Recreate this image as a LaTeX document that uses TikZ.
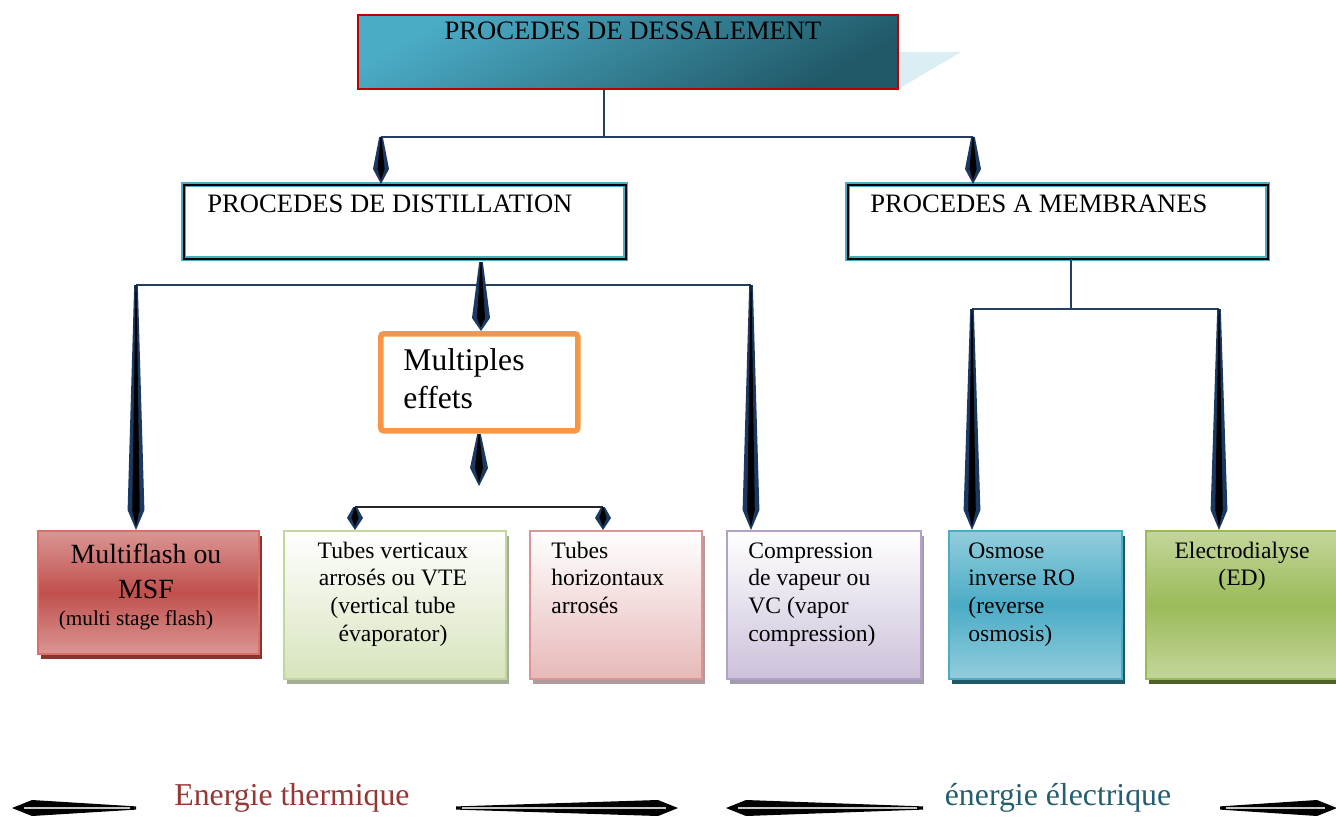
\documentclass[tikz,border=0pt]{standalone}
\usepackage{fontspec}
\setmainfont{Liberation Serif}
\usetikzlibrary{calc,shadows}
\definecolor{navy}{HTML}{1B3A63}
\definecolor{linec}{HTML}{243F60}
\definecolor{topA}{HTML}{4BACC6}
\definecolor{topB}{HTML}{215968}
\definecolor{topBorder}{HTML}{C00000}
\definecolor{ghost}{HTML}{DAEEF3}
\definecolor{cyanB}{HTML}{4BACC6}
\definecolor{orangeB}{HTML}{F79646}
\definecolor{msfA}{HTML}{DA9694}
\definecolor{msfB}{HTML}{C0504D}
\definecolor{msfL}{HTML}{D9706C}
\definecolor{msfS}{HTML}{8C3330}
\definecolor{vteB}{HTML}{D7E4BD}
\definecolor{vteL}{HTML}{C3D69B}
\definecolor{vteS}{HTML}{A6AE98}
\definecolor{thB}{HTML}{E6B9B8}
\definecolor{thL}{HTML}{D99694}
\definecolor{thS}{HTML}{B09A9A}
\definecolor{vcB}{HTML}{CCC1DA}
\definecolor{vcL}{HTML}{B3A2C7}
\definecolor{vcS}{HTML}{A39CAE}
\definecolor{roA}{HTML}{93CDDD}
\definecolor{roB}{HTML}{4BACC6}
\definecolor{roS}{HTML}{215968}
\definecolor{edA}{HTML}{C3D69B}
\definecolor{edB}{HTML}{9BBB59}
\definecolor{edS}{HTML}{4F6228}
\definecolor{thermc}{HTML}{953735}
\definecolor{elecc}{HTML}{245F6E}
\newcommand\linesL[2]{\vtop{\baselineskip=#1\relax\halign{##\hfil\cr#2\crcr}}}
\newcommand\linesC[2]{\vtop{\baselineskip=#1\relax\halign{\hfil##\hfil\cr#2\crcr}}}
% tapered navy arrow: #1 start, #2 tip, #3 head length, #4 half width
\newcommand\arrowV[4]{%
  \path ($(#2)!#3!(#1)$) coordinate (tpH) ($(#2)!1.8pt!(#1)$) coordinate (tpT);
  \fill[navy] ($(#1)!0.9pt!90:(#2)$) -- ($(tpH)!#4!-90:(#1)$) -- (#2) -- ($(tpH)!#4!90:(#1)$) -- ($(#1)!0.9pt!-90:(#2)$) -- cycle;
  \fill[black] ($(#1)!0.2pt!90:(#2)$) -- ($(tpH)!0.45*#4!-90:(#1)$) -- (tpT) -- ($(tpH)!0.45*#4!90:(#1)$) -- ($(#1)!0.2pt!-90:(#2)$) -- cycle;
}
% black tapered arrow with grey core: #1 thin end, #2 tip
\newcommand\arrowE[2]{%
  \path ($(#2)!10pt!(#1)$) coordinate (tpH) ($(#2)!6pt!(#1)$) coordinate (tpG);
  \fill[black] ($(#1)!0.8pt!90:(#2)$) -- ($(tpH)!4pt!-90:(#1)$) -- (#2) -- ($(tpH)!4pt!90:(#1)$) -- ($(#1)!0.8pt!-90:(#2)$) -- cycle;
  \draw[gray!45, line width=0.7pt] ($(#1)!3pt!(#2)$) -- (tpG);
}
\begin{document}
\begin{tikzpicture}[x=0.5pt,y=-0.5pt,
  box/.style={rectangle, inner sep=0pt, anchor=north west},
  txt/.style={inner sep=0pt},
  conn/.style={draw=linec, line width=1pt},
  hdr/.style={font=\fontsize{13.3}{16}\selectfont},
  small/.style={font=\fontsize{11.8}{13.85}\selectfont},
  big/.style={font=\fontsize{13.9}{17.5}\selectfont},
  sh/.style={drop shadow={shadow xshift=1.5pt, shadow yshift=-2.5pt, fill=#1, opacity=1}},
]
\useasboundingbox (0,0) rectangle (1336,818);
\fill[white] (0,0) rectangle (1336,818);

% top box
\fill[ghost] (899,52) -- (961,52) -- (900,88) -- cycle;
\node[box, minimum width=270pt, minimum height=37pt, draw=topBorder, line width=1pt,
      top color=topA, bottom color=topB, shading angle=30] (top) at (357,14) {};
\node[txt, hdr, anchor=base] (ttop) at (633,40) {PROCEDES DE DESSALEMENT};

% level 2
\node[box, minimum width=221pt, minimum height=37pt, draw=cyanB, line width=0.6pt,
      double=black, double distance=1pt, fill=white] (dist) at (183,184) {};
\node[txt, hdr, anchor=base west] (tdist) at (207,213) {PROCEDES DE DISTILLATION};
\node[box, minimum width=210pt, minimum height=37pt, draw=cyanB, line width=0.6pt,
      double=black, double distance=1pt, fill=white] (memb) at (847,184) {};
\node[txt, hdr, anchor=base west] (tmemb) at (870,213) {PROCEDES A MEMBRANES};

% multiples effets
\node[box, minimum width=98.5pt, minimum height=48.5pt, draw=orangeB, line width=2.8pt,
      rounded corners=1.5pt, fill=white] (mult) at (378,331) {};
\node[txt, font=\fontsize{15.8}{19}\selectfont, anchor=base west] (tmult) at (403,370)
      {\linesL{19pt}{Multiples\cr effets}};

% bottom boxes
\node[box, minimum width=110.5pt, minimum height=61.5pt, draw=msfL, line width=1pt,
      top color=msfA, bottom color=msfA, middle color=msfB, sh=msfS] (msf) at (37,530) {};
\node[txt, big, anchor=base] (tmsf) at (146,563) {\linesC{17.5pt}{Multiflash ou\cr MSF}};
\node[txt, font=\fontsize{10.6}{12.5}\selectfont, anchor=base] (tmsf2) at (136,625) {(multi stage flash)};

\node[box, minimum width=111pt, minimum height=74pt, draw=vteL, line width=1pt,
      top color=white, bottom color=vteB, sh=vteS] (vte) at (283,530) {};
\node[txt, small, anchor=base] (tvte) at (393,558)
      {\linesC{13.85pt}{Tubes verticaux\cr arrosés ou VTE\cr (vertical tube\cr évaporator)}};

\node[box, minimum width=86pt, minimum height=74pt, draw=thL, line width=1pt,
      top color=white, bottom color=thB, sh=thS] (th) at (529,530) {};
\node[txt, small, anchor=base west] (tth) at (551,558)
      {\linesL{13.85pt}{Tubes\cr horizontaux\cr arrosés}};

\node[box, minimum width=97pt, minimum height=74pt, draw=vcL, line width=1pt,
      top color=white, bottom color=vcB, sh=vcS] (vc) at (726,530) {};
\node[txt, small, anchor=base west] (tvc) at (748,558)
      {\linesL{13.85pt}{Compression\cr de vapeur ou\cr VC (vapor\cr compression)}};

\node[box, minimum width=86.5pt, minimum height=74pt, draw=roB, line width=1pt,
      top color=roA, bottom color=roA, middle color=roB, sh=roS] (ro) at (948,530) {};
\node[txt, small, anchor=base west] (tro) at (968,558)
      {\linesL{13.85pt}{Osmose\cr inverse RO\cr (reverse\cr osmosis)}};

\node[box, minimum width=100pt, minimum height=74pt, draw=edB, line width=1pt,
      top color=edA, bottom color=edA, middle color=edB, sh=edS] (ed) at (1145,530) {};
\node[txt, small, anchor=base] (ted) at (1242,558)
      {\linesC{13.85pt}{Electrodialyse\cr (ED)}};

% connectors level 1
\coordinate (jT) at (604,137);
\coordinate (jTL) at (381,137);
\coordinate (jTR) at (973,137);
\draw[conn] (jT |- top.south) -- (jT);
\draw[conn] (jTL) -- (jTR);
\coordinate (tDist) at (jTL |- dist.north);
\coordinate (tMemb) at (jTR |- memb.north);
\arrowV{jTL}{tDist}{7.5pt}{4pt}
\arrowV{jTR}{tMemb}{7.5pt}{4pt}

% distillation branches
\coordinate (jDL) at (136,285);
\coordinate (jDR) at (751,285);
\draw[conn] (jDL) -- (jDR);
\coordinate (aD) at (481,262);
\coordinate (tMult) at (aD |- mult.north);
\arrowV{aD}{tMult}{6.5pt}{4.5pt}
\coordinate (tMsf) at (jDL |- msf.north);
\coordinate (tVc) at (jDR |- vc.north);
\arrowV{jDL}{tMsf}{10pt}{4.2pt}
\arrowV{jDR}{tVc}{10pt}{4.2pt}

% multiples effets branches
\coordinate (aM) at (479,434);
\coordinate (tM) at (479,486);
\arrowV{aM}{tM}{9pt}{4.5pt}
\coordinate (jML) at (355,507);
\coordinate (jMR) at (603,507);
\draw[draw=black!85, line width=1pt] (jML) -- (jMR);
\coordinate (tVte) at (jML |- vte.north);
\coordinate (tTh) at (jMR |- th.north);
\arrowV{jML}{tVte}{6pt}{4pt}
\arrowV{jMR}{tTh}{6pt}{4pt}

% membranes branches
\coordinate (jM) at (1071,309);
\coordinate (jRL) at (972,309);
\coordinate (jRR) at (1219,309);
\draw[conn] (jM |- memb.south) -- (jM);
\draw[conn] (jRL) -- (jRR);
\coordinate (tRo) at (jRL |- ro.north);
\coordinate (tEd) at (jRR |- ed.north);
\arrowV{jRL}{tRo}{10pt}{4.2pt}
\arrowV{jRR}{tEd}{10pt}{4.2pt}

% energy labels
\node[txt, font=\fontsize{15.9}{19}\selectfont, text=thermc, anchor=base] (eth) at (292,805) {Energie thermique};
\node[txt, font=\fontsize{15.9}{19}\selectfont, text=elecc, anchor=base] (eel) at (1058,805) {énergie électrique};
\coordinate (b1a) at (136,808); \coordinate (b1b) at (12,808);
\coordinate (b2a) at (456,808); \coordinate (b2b) at (678,808);
\coordinate (b3a) at (923,808); \coordinate (b3b) at (726,808);
\coordinate (b4a) at (1220,808); \coordinate (b4b) at (1337,808);
\arrowE{b1a}{b1b}
\arrowE{b2a}{b2b}
\arrowE{b3a}{b3b}
\arrowE{b4a}{b4b}
\end{tikzpicture}
\end{document}
